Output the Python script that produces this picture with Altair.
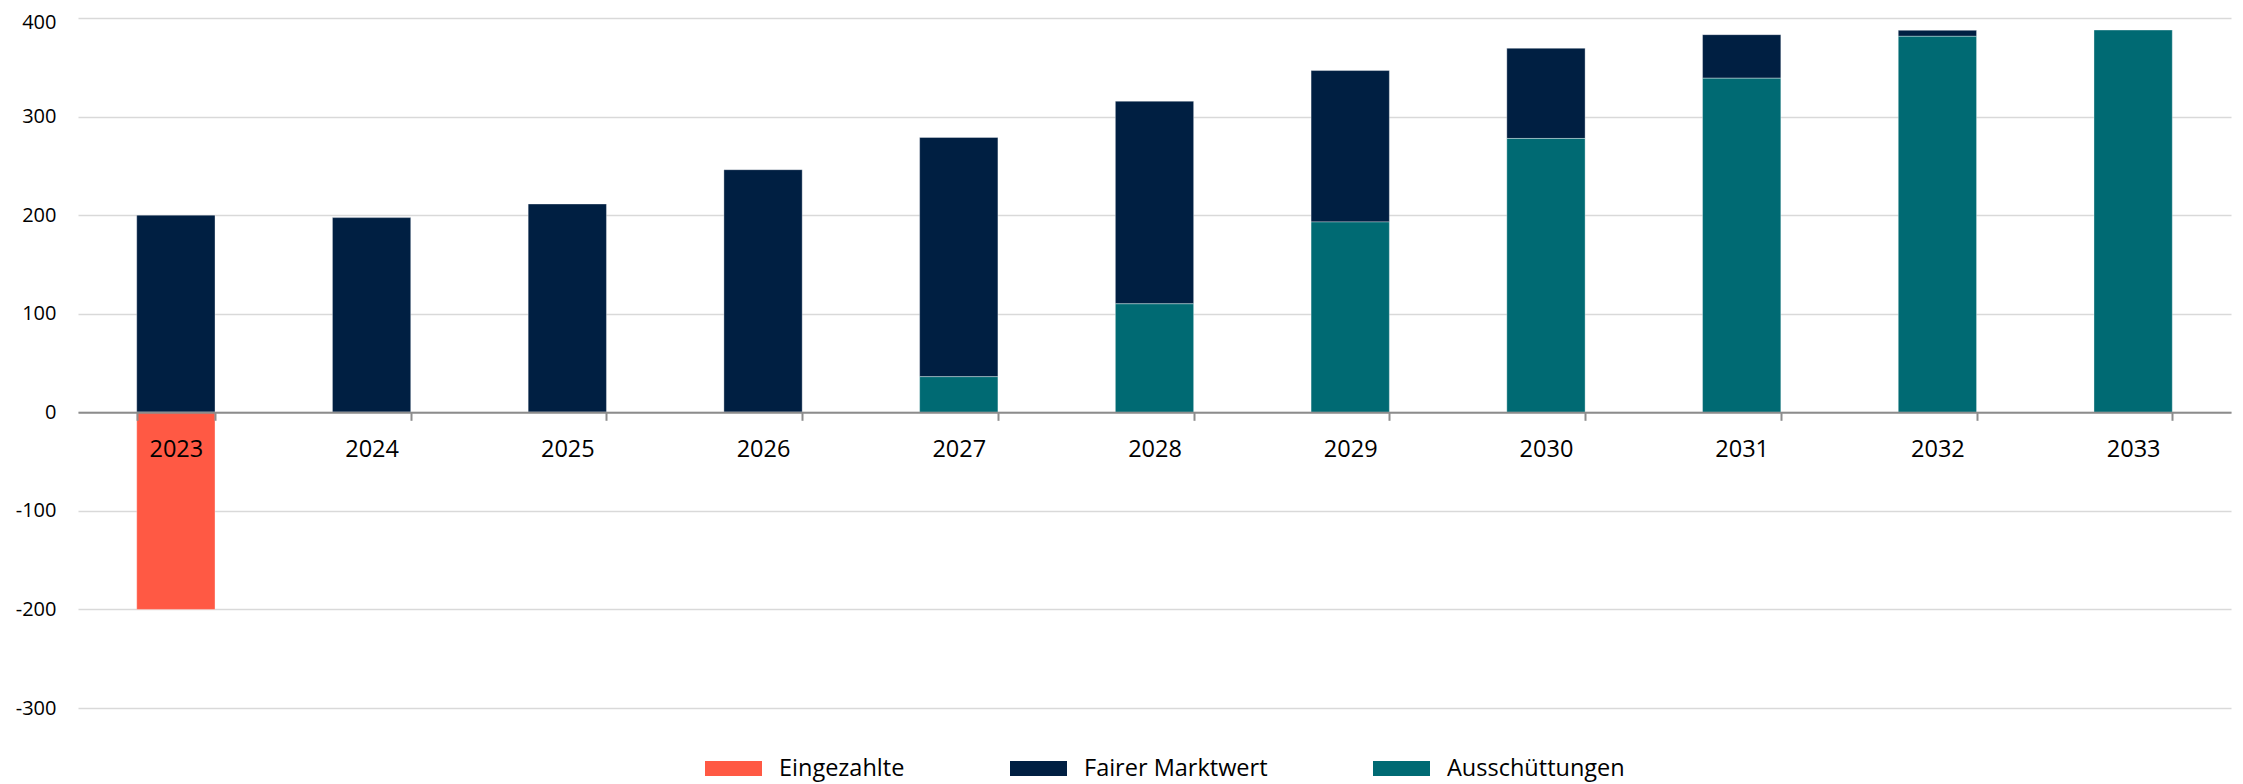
import altair as alt
import pandas as pd

years = ["2023", "2024", "2025", "2026", "2027", "2028", "2029", "2030", "2031", "2032", "2033"]
eingezahlte = [-200, 0, 0, 0, 0, 0, 0, 0, 0, 0, 0]
fairer_marktwert = [200.0, 197.5, 211.3, 246.1, 242.7, 205.6, 153.6, 91.5, 44.2, 6.1, 0.0]
ausschuettungen = [0.0, 0.0, 0.0, 0.0, 36.1, 110.0, 193.1, 277.8, 338.9, 381.4, 387.8]

series_names = ["Eingezahlte", "Fairer Marktwert", "Ausschüttungen"]
series_colors = ["#FF5944", "#001F42", "#006A73"]
stack_order = {"Ausschüttungen": 0, "Fairer Marktwert": 1, "Eingezahlte": 2}
y_ticks = [-300, -200, -100, 0, 100, 200, 300, 400]

rows = []
for name, vals in zip(series_names, [eingezahlte, fairer_marktwert, ausschuettungen]):
    for yr, v in zip(years, vals):
        rows.append({"Jahr": yr, "Serie": name, "Wert": v, "ord": stack_order[name]})
df = pd.DataFrame(rows)

FONT = "Open Sans"

chart = alt.Chart(df).mark_bar(
    stroke="#ffffff", strokeWidth=1, strokeOpacity=0.35
).encode(
    x=alt.X(
        "Jahr:N",
        sort=years,
        scale=alt.Scale(paddingInner=0.6, paddingOuter=0.3),
        axis=alt.Axis(
            title=None,
            orient="bottom",
            offset=-295.7,
            labelAngle=0,
            labelFont=FONT,
            labelFontSize=23.5,
            labelColor="#000000",
            labelPadding=17,
            domainColor="#8C8C8C",
            domainWidth=2,
            tickColor="#8C8C8C",
            tickWidth=2,
            tickSize=8,
            tickBand="extent",
            grid=False,
            zindex=1,
        ),
    ),
    y=alt.Y(
        "Wert:Q",
        stack="zero",
        scale=alt.Scale(domain=[-300, 400], nice=False),
        axis=alt.Axis(
            title=None,
            values=y_ticks,
            labelExpr="datum.value + ''",
            labelFont=FONT,
            labelFontSize=20,
            labelColor="#000000",
            labelPadding=22,
            labelOffset={"condition": {"test": "datum.value == 400", "value": 4}, "value": 0},
            ticks=False,
            domain=False,
            grid=True,
            gridColor="#D9D9D9",
            gridWidth=1.5,
        ),
    ),
    color=alt.Color(
        "Serie:N",
        scale=alt.Scale(domain=series_names, range=series_colors),
        legend=alt.Legend(
            title=None,
            orient="none",
            direction="horizontal",
            legendX=627,
            legendY=722,
            padding=0,
            symbolType="M-1,-0.263L1,-0.263L1,0.263L-1,0.263Z",
            symbolSize=3249,
            symbolStrokeWidth=0,
            symbolOpacity=1,
            labelFont=FONT,
            labelFontSize=23.5,
            labelColor="#000000",
            labelOffset=17,
            columnPadding=105,
            labelExpr="datum.label == 'Eingezahlte' ? '\u00a0Eingezahlte' : datum.label",
            labelLimit=400,
        ),
    ),
    order=alt.Order("ord:Q", sort="ascending"),
).properties(
    width=2153,
    height=690,
    padding={"left": 70, "top": 10, "right": 4, "bottom": 76},
    autosize=alt.AutoSizeParams(type="none"),
).configure_view(stroke=None)

chart.save("out.html", embed_options={"renderer": "svg", "actions": False})
